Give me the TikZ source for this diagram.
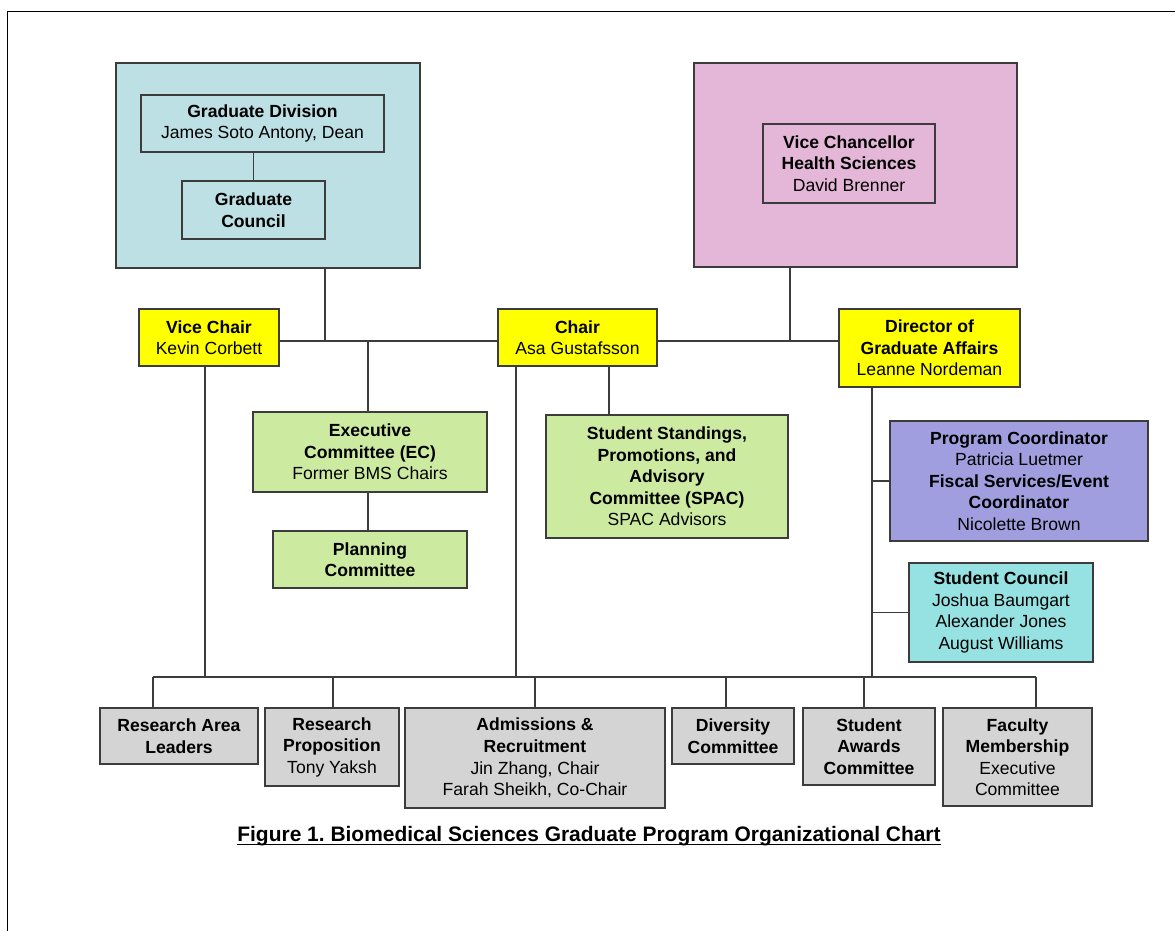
\documentclass[tikz,border=0pt]{standalone}
\usepackage{fontspec}
\setmainfont{Liberation Sans}
\usepackage{tikz}
\frenchspacing

\definecolor{gdivblue}{RGB}{188,224,227}
\definecolor{vcpink}{RGB}{228,182,216}
\definecolor{leadyellow}{RGB}{255,255,0}
\definecolor{comgreen}{RGB}{205,235,160}
\definecolor{staffpurple}{RGB}{160,158,222}
\definecolor{scteal}{RGB}{150,226,226}
\definecolor{subgray}{RGB}{212,212,212}
\definecolor{edge}{RGB}{60,60,60}

\tikzset{
  wh/.style 2 args={minimum width=#1*0.025cm, minimum height=#2*0.025cm},
  orgbox/.style={draw=edge, line width=0.9pt, inner sep=0pt, align=center,
    font=\fontsize{12.5}{15.3}\selectfont},
  lead/.style={orgbox, fill=leadyellow},
  com/.style={orgbox, fill=comgreen},
  sub/.style={orgbox, fill=subgray},
  link/.style={draw=edge, line width=0.9pt}
}

\begin{document}
\begin{tikzpicture}[x=0.025cm, y=-0.025cm]
         \useasboundingbox (0,0) rectangle (1175,931);
         \draw [line width=0.7pt] (7,931) -- (7,11) -- (1175,11);
         % top units
         \node [orgbox, fill=gdivblue, wh={304}{205}] (gdiv) at (268,165.5) {};
         \node [orgbox, fill=vcpink, wh={323}{204}] (vcunit) at (855.5,165) {};
         \node [orgbox, wh={243}{57}] (GD) at (262.5,123.5) {\textbf{Graduate Division}\\James Soto Antony, Dean};
         \node [orgbox, wh={143}{58}] (GC) at (253.5,210) {\textbf{Graduate}\\\textbf{Council}};
         \node [orgbox, wh={172}{79}] (VC) at (849,163.5) {\textbf{Vice Chancellor}\\\textbf{Health Sciences}\\David Brenner};
         \draw [link] (GC.north) -- (GC.north |- GD.south);
         % leadership row
         \coordinate (bus) at (0,341);
         \coordinate (gdrop) at (325,268);
         \coordinate (vdrop) at (790,267);
         \node [lead, wh={140}{57}] (VCH) at (209,337.5) {\textbf{Vice Chair}\\Kevin Corbett};
         \node [lead, wh={159}{57}] (CH) at (577.5,337.5) {\textbf{Chair}\\Asa Gustafsson};
         \node [lead, wh={181}{78}] (DGA) at (929.5,348) {\textbf{Director of}\\\textbf{Graduate Affairs}\\Leanne Nordeman};
         \draw [link] (VCH.east |- bus) -- (CH.west |- bus);
         \draw [link] (CH.east |- bus) -- (DGA.west |- bus);
         \draw [link] (gdrop) -- (gdrop |- bus);
         \draw [link] (vdrop) -- (vdrop |- bus);
         % committees
         \node [com, wh={234}{80}] (EC) at (370,452) {\textbf{Executive}\\\textbf{Committee (EC)}\\Former BMS Chairs};
         \node [com, wh={194}{57}] (PC) at (370,559.5) {\textbf{Planning}\\\textbf{Committee}};
         \node [com, wh={242}{123}] (SPAC) at (667,476.5) {\textbf{Student Standings,}\\\textbf{Promotions, and}\\\textbf{Advisory}\\\textbf{Committee (SPAC)}\\SPAC Advisors};
         \coordinate (sdrop) at (609,0);
         \coordinate (eline) at (368,0);
         \draw [link] (bus -| eline) -- (EC.north -| eline);
         \draw [link] (EC.south -| eline) -- (PC.north -| eline);
         \draw [link] (CH.south -| sdrop) -- (SPAC.north -| sdrop);
         % staff
         \node [orgbox, fill=staffpurple, wh={258}{120}] (PROG) at (1019,481) {\textbf{Program Coordinator}\\Patricia Luetmer\\\textbf{Fiscal Services/Event}\\\textbf{Coordinator}\\Nicolette Brown};
         \node [orgbox, fill=scteal, wh={184}{99}] (SC) at (1001,612.5) {\textbf{Student Council}\\Joshua Baumgart\\Alexander Jones\\August Williams};
         % subcommittees
         \node [sub, wh={158}{56}] (RAL) at (179,736) {\textbf{Research Area}\\\textbf{Leaders}};
         \node [sub, wh={134}{78}] (RP) at (332,747) {\textbf{Research}\\\textbf{Proposition}\\Tony Yaksh};
         \node [sub, wh={260}{100}] (ADM) at (535,758) {\textbf{Admissions \&}\\\textbf{Recruitment}\\Jin Zhang, Chair\\Farah Sheikh, Co-Chair};
         \node [sub, wh={122}{56}] (DIV) at (733,736) {\textbf{Diversity}\\\textbf{Committee}};
         \node [sub, wh={132}{77}] (SA) at (869,746.5) {\textbf{Student}\\\textbf{Awards}\\\textbf{Committee}};
         \node [sub, wh={149}{98}] (FM) at (1017.5,757) {\textbf{Faculty}\\\textbf{Membership}\\Executive\\Committee};
         \coordinate (lowbus) at (0,677);
         \coordinate (vcline) at (205,0);
         \coordinate (chline) at (516,0);
         \coordinate (dline) at (872,0);
         \draw [link] (VCH.south -| vcline) -- (lowbus -| vcline);
         \draw [link] (CH.south -| chline) -- (lowbus -| chline);
         \draw [link] (DGA.south -| dline) -- (lowbus -| dline);
         \draw [link] (PROG.west -| dline) -- (PROG.west);
         \draw [link] (SC.west -| dline) -- (SC.west);
         \foreach \n/\x in {RAL/153, RP/333, ADM/535, DIV/726, SA/864, FM/1036} {
           \coordinate (t) at (\x,677);
           \draw [link] (t) -- (t |- \n.north);
         }
         \draw [link] (153,677) -- (1036,677);
         % caption
         \node [inner sep=0pt, font=\fontsize{14.9}{17}\selectfont\bfseries] (caption) at (589,836) {Figure 1. Biomedical Sciences Graduate Program Organizational Chart};
         \draw [line width=0.8pt] ([yshift=-0.07cm]caption.base west) -- ([yshift=-0.07cm]caption.base east);
\end{tikzpicture}
\end{document}
